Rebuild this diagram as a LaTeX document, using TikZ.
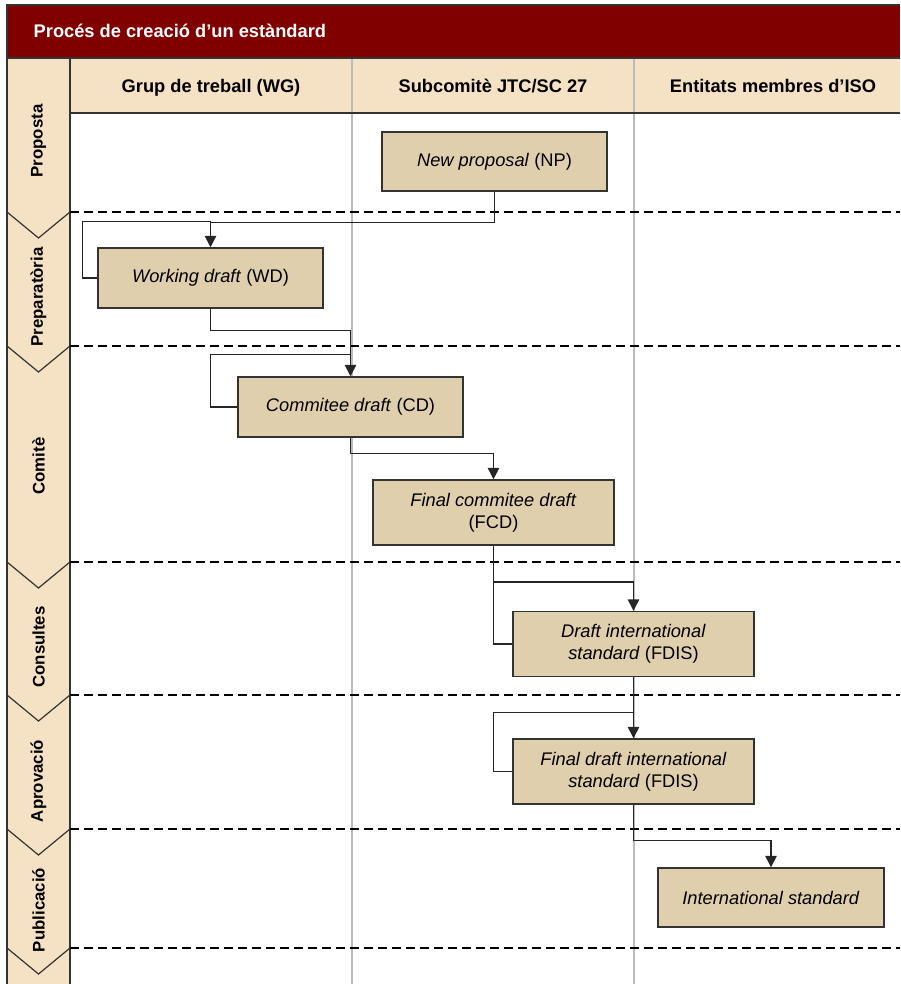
\documentclass[tikz,border=0pt]{standalone}
\usepackage{fontspec}
\setmainfont{Liberation Sans}
\usetikzlibrary{arrows.meta, positioning}

\definecolor{granat}{HTML}{800000}
\definecolor{blat}{HTML}{F5E2C4}
\definecolor{fonscaixa}{HTML}{E0CFAD}
\definecolor{vora}{HTML}{333333}
\definecolor{separador}{HTML}{BBBBBB}

\begin{document}
\begin{tikzpicture}[x=0.75pt, y=-0.75pt,
	caixa/.style={draw=vora, line width=1.1pt, fill=fonscaixa, align=center, inner sep=0pt, font=\fontsize{13.7}{16.5}\selectfont},
	fase/.style={rotate=90, font=\fontsize{12.6}{15}\selectfont\bfseries},
	capcalera/.style={anchor=base, font=\fontsize{13.7}{16.5}\selectfont\bfseries},
	fletxa/.style={draw=black!85, line width=1.1pt, -{Triangle[length=8.5pt, width=8.5pt]}},
	linia/.style={draw=black!85, line width=1.1pt},
	limit/.style={dash pattern=on 6.5pt off 4pt, line width=0.8pt}]

	\useasboundingbox (0,0) rectangle (900,984);

	%fons
	\fill[granat] (7,5) rectangle (900,58);
	\fill[blat] (7,58) rectangle (70,984);
	\fill[blat] (70,58) rectangle (900,113);
	\node[capcalera, anchor=base west, text=white] (titol) at (29,38) {Procés de creació d’un estàndard};

	\draw[separador, line width=1.5pt] (352,58) to (352,984);
	\draw[separador, line width=1.5pt] (634,58) to (634,984);

	\draw[vora, line width=1.2pt] (7,984) to (7,5) to (900,5);
	\draw[vora, line width=1.2pt] (7,58) to (900,58);
	\draw[vora, line width=1.5pt] (70,58) to (70,984);
	\draw[vora, line width=1pt] (70,113) to (900,113);

	\node[capcalera] (wg)  at (211,93) {Grup de treball (WG)};
	\node[capcalera] (sc)  at (493,93) {Subcomitè JTC/SC 27};
	\node[capcalera] (iso) at (773,93) {Entitats membres d’ISO};

	%fases
	\draw[limit] (70,212) to (900,212);
	\draw[limit] (70,346) to (900,346);
	\draw[limit] (70,562) to (900,562);
	\draw[limit] (70,695) to (900,695);
	\draw[limit] (70,829) to (900,829);
	\draw[limit] (70,948) to (900,948);

	\draw[vora, line width=0.9pt] (7,212) to (38.5,238) to (70,212);
	\draw[vora, line width=0.9pt] (7,346) to (38.5,372) to (70,346);
	\draw[vora, line width=0.9pt] (7,562) to (38.5,588) to (70,562);
	\draw[vora, line width=0.9pt] (7,695) to (38.5,721) to (70,695);
	\draw[vora, line width=0.9pt] (7,829) to (38.5,855) to (70,829);
	\draw[vora, line width=0.9pt] (7,948) to (38.5,974) to (70,948);

	\node[fase] (proposta)  at (38.5,141) {Proposta};
	\node[fase] (prepara)   at (38.5,297) {Preparatòria};
	\node[fase] (comite)    at (38.5,466) {Comitè};
	\node[fase] (consultes) at (38.5,647) {Consultes};
	\node[fase] (aprova)    at (38.5,781) {Aprovació};
	\node[fase] (publica)   at (38.5,910) {Publicació};

	%documents
	\node[caixa, minimum width=168.75pt, minimum height=44.25pt] (np)   at (494.5,161.5) {\textit{New proposal} (NP)};
	\node[caixa, minimum width=168.75pt, minimum height=45pt]    (wd)   at (210.5,278)   {\textit{Working draft} (WD)};
	\node[caixa, minimum width=168.75pt, minimum height=45pt]    (cd)   at (350.5,407)   {\textit{Commitee draft} (CD)};
	\node[caixa, minimum width=180.75pt, minimum height=48.75pt] (fcd)  at (493.5,512.5) {\textit{Final commitee draft}\\(FCD)};
	\node[caixa, minimum width=180.75pt, minimum height=48.75pt] (dis)  at (633.5,644)   {\textit{Draft international}\\\textit{standard} (FDIS)};
	\node[caixa, minimum width=180.75pt, minimum height=48.75pt] (fdis) at (633.5,771.5) {\textit{Final draft international}\\\textit{standard} (FDIS)};
	\node[caixa, minimum width=169.5pt, minimum height=44.25pt]  (is)   at (771,897.5)   {\textit{International standard}};

	\draw[fletxa] (np.south) -- ++(0,31) -| (wd.north);
	\draw[linia] (wd.west) -- ++(-15,0) |- ([yshift=19.5pt]wd.north);

	\draw[fletxa] (wd.south) -- ++(0,22) -| (cd.north);
	\draw[linia] (cd.west) -- ++(-27,0) |- ([yshift=16.5pt]cd.north);

	\draw[fletxa] (cd.south) -- ++(0,16) -| (fcd.north);

	\draw[fletxa] (fcd.south) -- ++(0,37) -| (dis.north);
	\draw[linia] (dis.west) -- ++(-19,0) |- ([yshift=21.75pt]dis.north);

	\draw[fletxa] (dis) to (fdis);
	\draw[linia] (fdis.west) -- ++(-19,0) |- ([yshift=19.5pt]fdis.north);

	\draw[fletxa] (fdis.south) -- ++(0,36) -| (is.north);
\end{tikzpicture}
\end{document}
